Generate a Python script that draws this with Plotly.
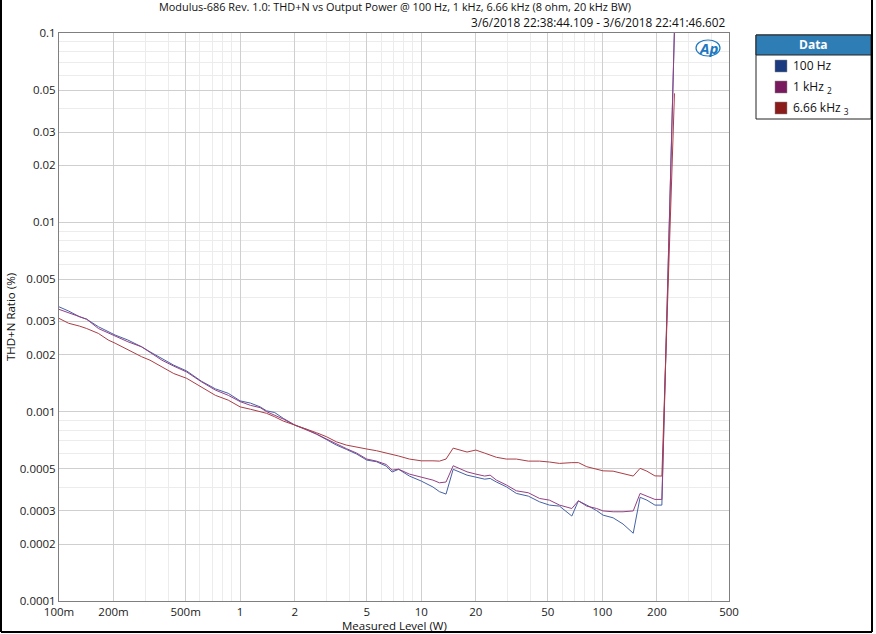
import plotly.graph_objects as go

# ---------------- data ----------------
power_w = [0.1, 0.113, 0.13, 0.142, 0.165, 0.187, 0.204, 0.24, 0.286, 0.318,
           0.37, 0.43, 0.507, 0.61, 0.73, 0.86, 1.0, 1.14, 1.29, 1.4,
           1.55, 1.73, 2.0, 2.33, 2.64, 3.0, 3.4, 3.86, 4.4, 5.0,
           5.66, 6.4, 6.9, 7.5, 8.6, 10, 11.6, 12.6, 13.7, 15,
           17.9, 20, 22.4, 24, 26, 29.5, 33.5, 39, 45, 51,
           58, 67.8, 73.7, 82, 93, 100.9, 114.6, 130, 148, 161.5,
           176, 195, 213, 250]

thdn_100hz = [0.00358, 0.00340, 0.00317, 0.00308, 0.00281, 0.00264, 0.00254, 0.00239, 0.00220, 0.00207,
              0.00191, 0.00176, 0.00164, 0.00145, 0.00132, 0.00125, 0.00114, 0.00111, 0.00106, 0.00101,
              0.00099, 0.000922, 0.000850, 0.000806, 0.000761, 0.000714, 0.000666, 0.000632, 0.000597, 0.000555,
              0.000544, 0.000516, 0.000480, 0.000496, 0.000457, 0.000430, 0.000400, 0.000378, 0.000367, 0.000496,
              0.000462, 0.000451, 0.000440, 0.000444, 0.000425, 0.000401, 0.000370, 0.000358, 0.000334, 0.000321,
              0.000317, 0.000281, 0.000338, 0.000321, 0.000300, 0.000284, 0.000275, 0.000255, 0.000228, 0.000353,
              0.000341, 0.000321, 0.000321, 0.105]

thdn_1khz = [0.00347, 0.00333, 0.00317, 0.00308, 0.00275, 0.00261, 0.00252, 0.00234, 0.00220, 0.00205,
             0.00187, 0.00174, 0.00162, 0.00144, 0.00130, 0.00122, 0.00113, 0.00108, 0.00105, 0.00100,
             0.000959, 0.000914, 0.000850, 0.000804, 0.000761, 0.000717, 0.000674, 0.000638, 0.000604, 0.000562,
             0.000548, 0.000526, 0.000491, 0.000497, 0.000468, 0.000449, 0.000435, 0.000421, 0.000425, 0.000518,
             0.000481, 0.000468, 0.000457, 0.000462, 0.000435, 0.000410, 0.000382, 0.000373, 0.000348, 0.000341,
             0.000321, 0.000308, 0.000338, 0.000317, 0.000308, 0.000299, 0.000296, 0.000296, 0.000299, 0.000370,
             0.000358, 0.000344, 0.000344, 0.105]

thdn_6k66 = [0.00311, 0.00293, 0.00283, 0.00275, 0.00259, 0.00239, 0.00230, 0.00212, 0.00195, 0.00187,
             0.00173, 0.00159, 0.00150, 0.00135, 0.00122, 0.00115, 0.00106, 0.00103, 0.00100, 0.000980,
             0.000940, 0.000892, 0.000850, 0.000809, 0.000774, 0.000737, 0.000693, 0.000666, 0.000653, 0.000635,
             0.000622, 0.000607, 0.000594, 0.000583, 0.000562, 0.000550, 0.000550, 0.000548, 0.000562, 0.000642,
             0.000612, 0.000627, 0.000604, 0.000590, 0.000574, 0.000562, 0.000562, 0.000548, 0.000548, 0.000542,
             0.000533, 0.000538, 0.000538, 0.000512, 0.000497, 0.000487, 0.000485, 0.000472, 0.000457, 0.000502,
             0.000485, 0.000458, 0.000457, 0.048]

series_names = ["100 Hz", "1 kHz", "6.66 kHz"]
legend_labels = ["100 Hz", "1 kHz <sub>2</sub>", "6.66 kHz <sub>3</sub>"]

x_tick_vals = [0.1, 0.2, 0.5, 1, 2, 5, 10, 20, 50, 100, 200, 500]
x_tick_text = ["100m", "200m", "500m", "1", "2", "5", "10", "20", "50", "100", "200", "500"]
x_minor_vals = [0.3, 0.4, 0.6, 0.7, 0.8, 0.9, 3, 4, 6, 7, 8, 9, 30, 40, 60, 70, 80, 90, 300, 400]

y_tick_vals = [0.0001, 0.0002, 0.0003, 0.0005, 0.001, 0.002, 0.003, 0.005, 0.01, 0.02, 0.03, 0.05, 0.1]
y_tick_text = ["0.0001", "0.0002", "0.0003", "0.0005", "0.001", "0.002", "0.003", "0.005",
               "0.01", "0.02", "0.03", "0.05", "0.1"]
y_minor_vals = [0.0004, 0.0006, 0.0007, 0.0008, 0.0009, 0.004, 0.006, 0.007, 0.008, 0.009,
                0.04, 0.06, 0.07, 0.08, 0.09]

title_text = "Modulus-686 Rev. 1.0: THD+N vs Output Power @ 100 Hz, 1 kHz, 6.66 kHz (8 ohm, 20 kHz BW)"
subtitle_text = "3/6/2018 22:38:44.109 - 3/6/2018 22:41:46.602"

# ---------------- styling ----------------
W, H = 876, 634
L, R, T, B = 59, 729, 33, 601
line_colors = ["#4462a6", "#953f84", "#ab3d46"]
swatch_colors = ["#1c3a7f", "#7a1a5e", "#8a1c1c"]
FONT = "Open Sans"


def px(x):
    return (x - L) / (R - L)


def py(y):
    return (B - y) / (B - T)


fig = go.Figure()
for name, ys, col in zip(series_names, [thdn_100hz, thdn_1khz, thdn_6k66], line_colors):
    fig.add_trace(go.Scatter(x=power_w, y=ys, mode="lines", name=name,
                             line=dict(color=col, width=1), showlegend=False))

axis_common = dict(showline=True, linecolor="#7f7f7f", linewidth=1, mirror=True,
                   ticks="", zeroline=False,
                   showgrid=True, gridcolor="#cfcfcf", gridwidth=1,
                   tickfont=dict(family=FONT, size=11.5, color="#1a1a1a"))

fig.update_xaxes(type="log", range=[-1, 2.69897], tickmode="array",
                 tickvals=x_tick_vals, ticktext=x_tick_text, ticklabelstandoff=0,
                 minor=dict(tickmode="array", tickvals=x_minor_vals, showgrid=True,
                            gridcolor="#ececec", ticks=""),
                 **axis_common)
fig.update_yaxes(type="log", range=[-4, -1], tickmode="array",
                 tickvals=y_tick_vals, ticktext=y_tick_text,
                 minor=dict(tickmode="array", tickvals=y_minor_vals, showgrid=True,
                            gridcolor="#ececec", ticks=""),
                 **axis_common)

ann = []
ann.append(dict(text=title_text, x=px(395), y=py(7), xref="paper", yref="paper",
                xanchor="center", yanchor="middle", showarrow=False,
                font=dict(family=FONT, size=10.9, color="#111")))
ann.append(dict(text=subtitle_text, x=px(728), y=py(22), xref="paper", yref="paper",
                xanchor="right", yanchor="middle", showarrow=False,
                font=dict(family=FONT, size=11.8, color="#111")))
ann.append(dict(text="Measured Level (W)", x=px(394), y=py(625), xref="paper", yref="paper",
                xanchor="center", yanchor="middle", showarrow=False,
                font=dict(family=FONT, size=11.5, color="#111")))
ann.append(dict(text="THD+N Ratio (%)", x=px(10), y=py(317), xref="paper", yref="paper",
                xanchor="center", yanchor="middle", showarrow=False, textangle=-90,
                font=dict(family=FONT, size=11.5, color="#111")))
ann.append(dict(text="<b><i>Ap</i></b>", x=px(708), y=py(48), xref="paper", yref="paper",
                xanchor="center", yanchor="middle", showarrow=False,
                font=dict(family=FONT, size=15, color="#1e78c0")))

shapes = []
# Ap logo swoosh
shapes.append(dict(type="circle", xref="paper", yref="paper",
                   x0=px(696), x1=px(720), y0=py(56), y1=py(40),
                   line=dict(color="#1e78c0", width=1.2)))
# legend box
lx0, lx1, ly0, ly1 = 756, 871, 35, 119
shapes.append(dict(type="rect", xref="paper", yref="paper",
                   x0=px(lx0), x1=px(lx1), y0=py(ly1), y1=py(ly0),
                   fillcolor="white", line=dict(color="#222", width=1)))
shapes.append(dict(type="rect", xref="paper", yref="paper",
                   x0=px(lx0), x1=px(lx1), y0=py(55), y1=py(ly0),
                   fillcolor="#2f7db5", line=dict(color="#222", width=1)))
ann.append(dict(text="<b>Data</b>", x=px((lx0 + lx1) / 2), y=py(45), xref="paper", yref="paper",
                xanchor="center", yanchor="middle", showarrow=False,
                font=dict(family=FONT, size=12, color="white")))
row_y = [66, 87, 108]
for lab, col, ry in zip(legend_labels, swatch_colors, row_y):
    shapes.append(dict(type="rect", xref="paper", yref="paper",
                       x0=px(775), x1=px(787), y0=py(ry + 6), y1=py(ry - 6),
                       fillcolor=col, line=dict(color="#888", width=0.5)))
    ann.append(dict(text=lab, x=px(791), y=py(ry), xref="paper", yref="paper",
                    xanchor="left", yanchor="middle", showarrow=False,
                    font=dict(family=FONT, size=12, color="#111")))

# outer border
for x0, y0, x1, y1 in [(1, 0, 1, 632), (1, 632, 872, 632), (872, 0, 872, 632)]:
    shapes.append(dict(type="line", xref="paper", yref="paper",
                       x0=px(x0), x1=px(x1), y0=py(y0), y1=py(y1),
                       line=dict(color="black", width=2)))

fig.update_layout(width=W, height=H,
                  margin=dict(l=L, r=W - R, t=T, b=H - B),
                  paper_bgcolor="white", plot_bgcolor="white",
                  showlegend=False, annotations=ann, shapes=shapes,
                  font=dict(family=FONT))

fig.write_html("out.html", config={"displayModeBar": False},
               post_script="document.body.style.margin='0px';document.body.style.padding='0px';"
                           "document.body.style.overflow='hidden';")
